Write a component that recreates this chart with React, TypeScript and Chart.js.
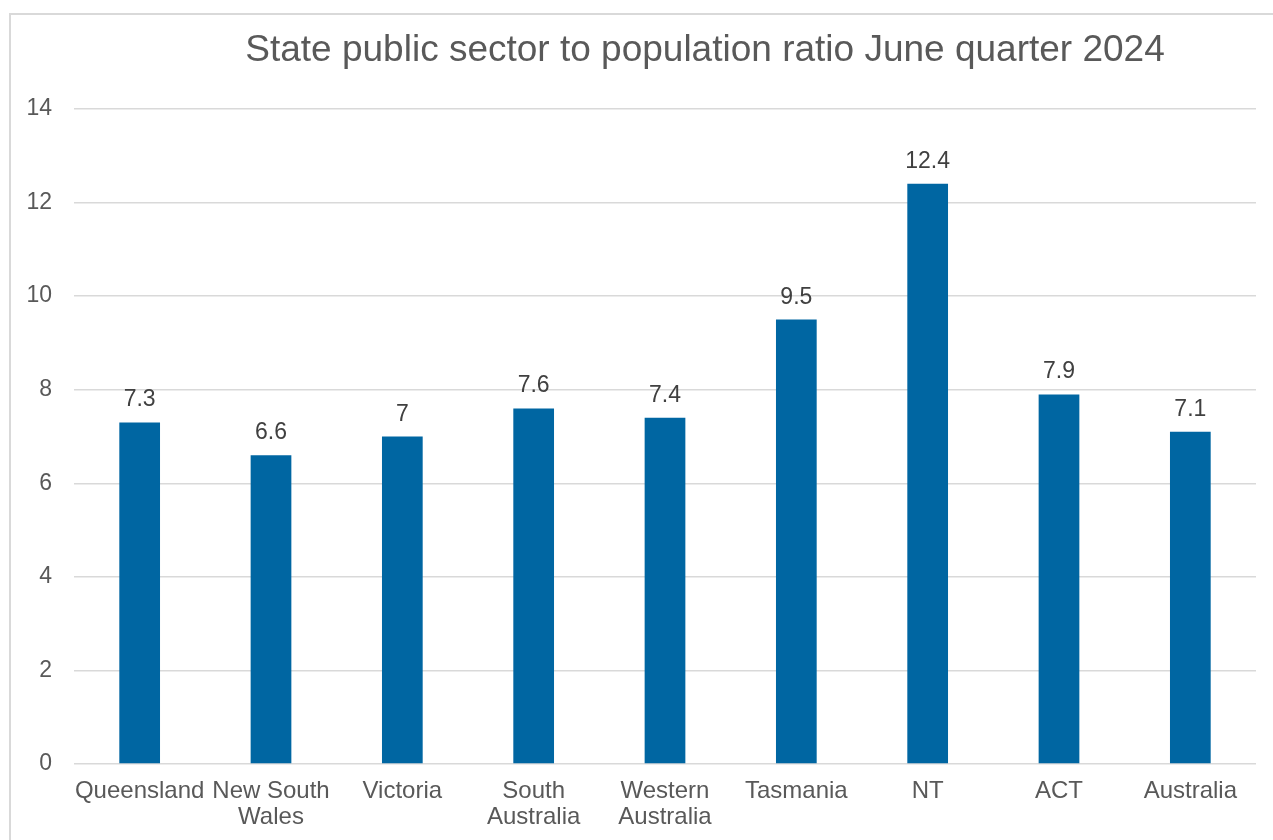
import React, { useEffect, useRef } from "react";
import { Chart, registerables } from "chart.js";

Chart.register(...registerables);

const TITLE = "State public sector to population ratio June quarter 2024";
const categories: (string | string[])[] = [
  "Queensland",
  ["New South", "Wales"],
  "Victoria",
  ["South", "Australia"],
  ["Western", "Australia"],
  "Tasmania",
  "NT",
  "ACT",
  "Australia",
];
const values = [7.3, 6.6, 7, 7.6, 7.4, 9.5, 12.4, 7.9, 7.1];
const yTicks = [0, 2, 4, 6, 8, 10, 12, 14];

const FONT = "'Liberation Sans', Arial, sans-serif";

const titlePlugin = {
  id: "customTitle",
  afterDraw(chart: any) {
    const ctx = chart.ctx;
    ctx.save();
    ctx.font = `37px ${FONT}`;
    ctx.fillStyle = "#595959";
    ctx.textAlign = "center";
    ctx.textBaseline = "alphabetic";
    ctx.fillText(TITLE, 705, 61);
    ctx.restore();
  },
};

const dataLabelPlugin = {
  id: "dataLabels",
  afterDatasetsDraw(chart: any) {
    const ctx = chart.ctx;
    const meta = chart.getDatasetMeta(0);
    ctx.save();
    ctx.font = `23px ${FONT}`;
    ctx.fillStyle = "#404040";
    ctx.textAlign = "center";
    ctx.textBaseline = "alphabetic";
    meta.data.forEach((bar: any, i: number) => {
      ctx.fillText(String(values[i]), bar.x, bar.y - 16);
    });
    ctx.restore();
  },
};

export default function App() {
  const ref = useRef<HTMLCanvasElement>(null);
  useEffect(() => {
    if (!ref.current) return;
    const chart = new Chart(ref.current, {
      type: "bar",
      data: {
        labels: categories,
        datasets: [
          {
            data: values,
            backgroundColor: "#0066A2",
            categoryPercentage: 1,
            barPercentage: 0.31,
          },
        ],
      },
      options: {
        animation: false,
        responsive: false,
        layout: { padding: { top: 109, right: 17, left: 0, bottom: 0 } },
        plugins: {
          legend: { display: false },
          title: { display: false },
          tooltip: { enabled: false },
        },
        scales: {
          x: {
            grid: { display: false, drawTicks: false },
            border: { display: false },
            ticks: {
              color: "#595959",
              font: { family: FONT, size: 24, lineHeight: 1.1 },
              padding: 14,
              maxRotation: 0,
              autoSkip: false,
            },
            afterFit: (scale: any) => {
              scale.height = 76;
            },
          },
          y: {
            min: 0,
            max: 14,
            afterBuildTicks: (scale: any) => {
              scale.ticks = yTicks.map((v) => ({ value: v }));
            },
            grid: { color: "#d9d9d9", lineWidth: 1.5, drawTicks: false },
            border: { display: false },
            ticks: {
              color: "#595959",
              font: { family: FONT, size: 23 },
              padding: 22,
            },
            afterFit: (scale: any) => {
              scale.width = 74;
            },
          },
        },
      },
      plugins: [titlePlugin, dataLabelPlugin],
    });
    return () => chart.destroy();
  }, []);

  return (
    <div>
      <div
        style={{
          position: "absolute",
          left: 9,
          top: 13,
          width: 1400,
          height: 900,
          borderLeft: "2px solid #d9d9d9",
          borderTop: "2px solid #d9d9d9",
          boxSizing: "border-box",
        }}
      />
      <canvas
        ref={ref}
        width={1273}
        height={840}
        style={{ position: "absolute", left: 0, top: 0, width: 1273, height: 840 }}
      />
    </div>
  );
}
